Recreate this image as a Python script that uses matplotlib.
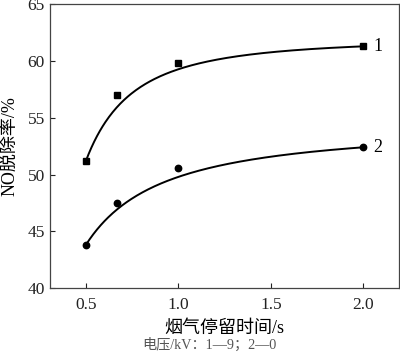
import numpy as np
import matplotlib
matplotlib.use("Agg")
import matplotlib.pyplot as plt

plt.rcParams['font.family'] = ['Liberation Serif', 'Noto Sans CJK SC', 'DejaVu Sans']
plt.rcParams['axes.unicode_minus'] = False

# data
residence_time = np.array([0.5, 0.667, 1.0, 2.0])
removal_9kv = np.array([51.2, 57.0, 59.8, 61.3])
removal_0kv = np.array([43.8, 47.5, 50.6, 52.4])
series_labels = ['1', '2']
xticks = [0.5, 1.0, 1.5, 2.0]
yticks = [40, 45, 50, 55, 60, 65]
xlabel = '烟气停留时间/s'
ylabel = 'NO脱除率/%'
note = '电压/kV：1—9；2—0'

# fit model y = a + b * x^(-p)
fit_exponents = [2.0, 1.2]
fit_weights = np.array([10.0, 1.0, 1.0, 10.0])


def fitted_curve(x, y, p, xs):
    coef = np.polyfit(x ** (-p), y, 1, w=fit_weights)
    return np.polyval(coef, xs ** (-p))


fig = plt.figure(figsize=(4.0, 3.58), dpi=100)
ax = fig.add_axes([0.126, 0.1955, 0.8715, 0.792])

xs = np.linspace(residence_time.min(), residence_time.max(), 300)
markers = ['s', 'o']
msizes = [5.0, 4.6]
for y, p, m, ms, lab in zip([removal_9kv, removal_0kv], fit_exponents, markers, msizes, series_labels):
    ax.plot(xs, fitted_curve(residence_time, y, p, xs), color='black', lw=1.4)
    ax.plot(residence_time, y, linestyle='none', marker=m, ms=ms, color='black')
    ax.annotate(lab, xy=(residence_time[-1], y[-1]), xytext=(7, 0), textcoords='offset points',
                ha='left', va='center', fontsize=13)

ax.set_xlim(0.308, 2.193)
ax.set_ylim(40, 65)
ax.set_xticks(xticks)
ax.set_xticklabels([f'{t:.1f}' for t in xticks])
ax.set_yticks(yticks)
ax.tick_params(direction='in', length=3.5, width=0.8, labelsize=12.5, colors='#222222',
               top=False, right=False)
ax.tick_params(axis='x', pad=6.5)
ax.tick_params(axis='y', pad=4)
for s in ax.spines.values():
    s.set_color('#444444')
    s.set_linewidth(0.9)

fig.text(0.561, (358 - 328) / 358, xlabel, ha='center', va='center', fontsize=13)
fig.text(0.524, (358 - 345) / 358, note, ha='center', va='center', fontsize=10.2, color='#555555')
fig.text(0.024, (358 - 146) / 358, ylabel, ha='center', va='center', rotation=90, fontsize=13)

fig.savefig('out.png', dpi=100)
